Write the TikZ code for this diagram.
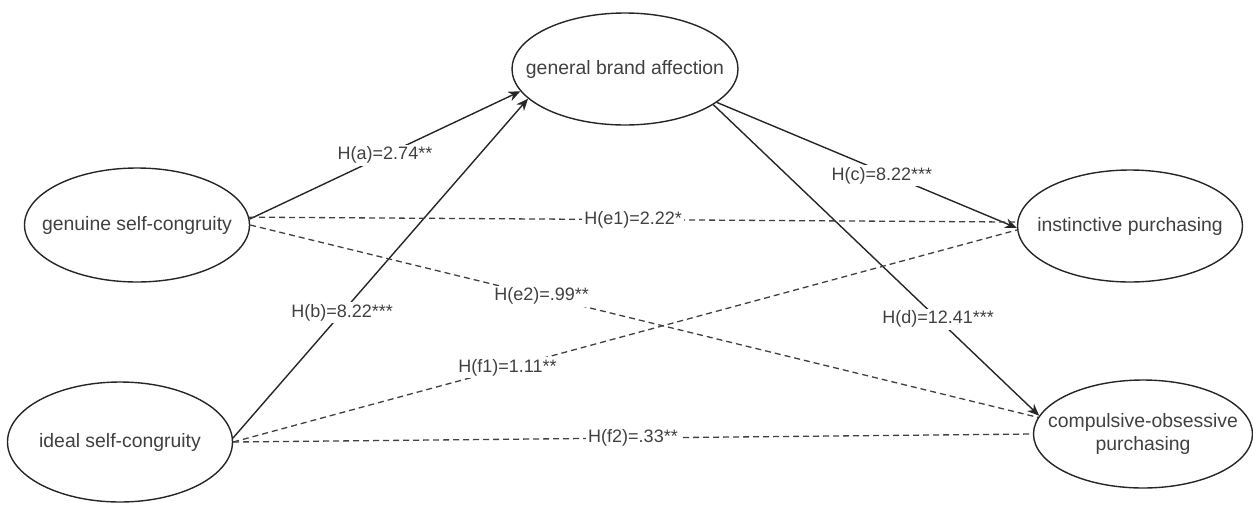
\documentclass[tikz,border=0pt]{standalone}
\usepackage{fontspec}
\setmainfont{Liberation Sans}
\usetikzlibrary{arrows.meta,shapes.geometric}

\begin{document}
\begin{tikzpicture}
    [x=0.5pt, y=-0.5pt,
    construct/.style={ellipse, draw=black!85, line width=0.7pt, text=black!75,
      inner xsep=-14pt, inner ysep=0pt, align=center, font=\fontsize{9.7}{11.5}\selectfont},
    effect/.style={draw=black!85, line width=0.7pt, -{Stealth[length=6pt,width=5pt]}},
    weak/.style={draw=black!75, line width=0.65pt, dash pattern=on 3pt off 2pt},
    coef/.style={fill=white, inner sep=1pt, text=black!75,
      font=\fontsize{9}{10}\selectfont}]
    \useasboundingbox (0,0) rectangle (1253,504);
    % constructs
    \node[construct, minimum width=112.5pt, minimum height=57pt] (gsc) at (137,225) {genuine self-congruity};
    \node[construct, minimum width=112.5pt, minimum height=60pt] (isc) at (120,442) {ideal self-congruity};
    \node[construct, minimum width=113pt, minimum height=56pt] (gba) at (625,69) {general brand affection};
    \node[construct, minimum width=112.5pt, minimum height=56pt] (ip) at (1130,226) {instinctive purchasing};
    \node[construct, minimum width=109.5pt, minimum height=54pt] (cop) at (1143,434) {compulsive-obsessive\\purchasing};
    % direct effects
    \draw[effect] (gsc.3) -- (gba.192) node[coef, pos=0.5] {H(a)=2.74**};
    \draw[effect] (isc.2) -- (gba.197) node[coef, pos=0.37] {H(b)=8.22***};
    \draw[effect] (gba.-20) -- (ip.181) node[coef, pos=0.55, yshift=-2pt] {H(c)=8.22***};
    \draw[effect] (gba.-22) -- (cop.170) node[coef, pos=0.69] {H(d)=12.41***};
    % cross effects
    \draw[weak] (gsc.4) -- (ip.178) node[coef, pos=0.5] {H(e1)=2.22*};
    \draw[weak] (gsc.east) -- (cop.171) node[coef, pos=0.37] {H(e2)=.99**};
    \draw[weak] (isc.east) -- (ip.182) node[coef, pos=0.35] {H(f1)=1.11**};
    \draw[weak] (isc.east) -- (cop.west) node[coef, pos=0.5] {H(f2)=.33**};
\end{tikzpicture}
\end{document}
